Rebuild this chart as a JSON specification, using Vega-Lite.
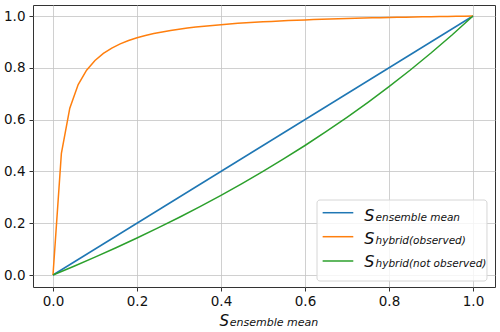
{
  "$schema": "https://vega.github.io/schema/vega-lite/v6.json",
  "width": 462,
  "height": 282,
  "autosize": {"type": "none"},
  "padding": {"left": 33, "top": 5, "right": 5, "bottom": 45},
  "background": "white",
  "config": {
    "view": {"stroke": "#333333", "strokeWidth": 1},
    "axis": {
      "domain": false,
      "tickColor": "#333333",
      "tickSize": 4,
      "tickWidth": 1,
      "labelFont": "DejaVu Sans",
      "labelFontSize": 13.5,
      "labelColor": "#111111",
      "gridColor": "#c4c4c4",
      "gridWidth": 0.8,
      "title": null
    }
  },
  "data": {
    "values": [
      {"x": 0, "y": 0, "series": "ensemble mean"},
      {"x": 1, "y": 1, "series": "ensemble mean"},

      {"x": 0.00, "y": 0.0, "series": "hybrid(observed)"},
      {"x": 0.02, "y": 0.4701, "series": "hybrid(observed)"},
      {"x": 0.04, "y": 0.6443, "series": "hybrid(observed)"},
      {"x": 0.06, "y": 0.7351, "series": "hybrid(observed)"},
      {"x": 0.08, "y": 0.7908, "series": "hybrid(observed)"},
      {"x": 0.10, "y": 0.8285, "series": "hybrid(observed)"},
      {"x": 0.12, "y": 0.8557, "series": "hybrid(observed)"},
      {"x": 0.14, "y": 0.8762, "series": "hybrid(observed)"},
      {"x": 0.16, "y": 0.8923, "series": "hybrid(observed)"},
      {"x": 0.18, "y": 0.9052, "series": "hybrid(observed)"},
      {"x": 0.20, "y": 0.9158, "series": "hybrid(observed)"},
      {"x": 0.22, "y": 0.9246, "series": "hybrid(observed)"},
      {"x": 0.24, "y": 0.9321, "series": "hybrid(observed)"},
      {"x": 0.26, "y": 0.9386, "series": "hybrid(observed)"},
      {"x": 0.28, "y": 0.9442, "series": "hybrid(observed)"},
      {"x": 0.30, "y": 0.9491, "series": "hybrid(observed)"},
      {"x": 0.32, "y": 0.9534, "series": "hybrid(observed)"},
      {"x": 0.34, "y": 0.9573, "series": "hybrid(observed)"},
      {"x": 0.36, "y": 0.9607, "series": "hybrid(observed)"},
      {"x": 0.38, "y": 0.9638, "series": "hybrid(observed)"},
      {"x": 0.40, "y": 0.9667, "series": "hybrid(observed)"},
      {"x": 0.42, "y": 0.9692, "series": "hybrid(observed)"},
      {"x": 0.44, "y": 0.9716, "series": "hybrid(observed)"},
      {"x": 0.46, "y": 0.9737, "series": "hybrid(observed)"},
      {"x": 0.48, "y": 0.9757, "series": "hybrid(observed)"},
      {"x": 0.50, "y": 0.9775, "series": "hybrid(observed)"},
      {"x": 0.52, "y": 0.9792, "series": "hybrid(observed)"},
      {"x": 0.54, "y": 0.9808, "series": "hybrid(observed)"},
      {"x": 0.56, "y": 0.9822, "series": "hybrid(observed)"},
      {"x": 0.58, "y": 0.9836, "series": "hybrid(observed)"},
      {"x": 0.60, "y": 0.9849, "series": "hybrid(observed)"},
      {"x": 0.62, "y": 0.9861, "series": "hybrid(observed)"},
      {"x": 0.64, "y": 0.9872, "series": "hybrid(observed)"},
      {"x": 0.66, "y": 0.9883, "series": "hybrid(observed)"},
      {"x": 0.68, "y": 0.9893, "series": "hybrid(observed)"},
      {"x": 0.70, "y": 0.9902, "series": "hybrid(observed)"},
      {"x": 0.72, "y": 0.9911, "series": "hybrid(observed)"},
      {"x": 0.74, "y": 0.9920, "series": "hybrid(observed)"},
      {"x": 0.76, "y": 0.9928, "series": "hybrid(observed)"},
      {"x": 0.78, "y": 0.9936, "series": "hybrid(observed)"},
      {"x": 0.80, "y": 0.9943, "series": "hybrid(observed)"},
      {"x": 0.82, "y": 0.9950, "series": "hybrid(observed)"},
      {"x": 0.84, "y": 0.9956, "series": "hybrid(observed)"},
      {"x": 0.86, "y": 0.9963, "series": "hybrid(observed)"},
      {"x": 0.88, "y": 0.9969, "series": "hybrid(observed)"},
      {"x": 0.90, "y": 0.9975, "series": "hybrid(observed)"},
      {"x": 0.92, "y": 0.9980, "series": "hybrid(observed)"},
      {"x": 0.94, "y": 0.9985, "series": "hybrid(observed)"},
      {"x": 0.96, "y": 0.9990, "series": "hybrid(observed)"},
      {"x": 0.98, "y": 0.9995, "series": "hybrid(observed)"},
      {"x": 1.00, "y": 1.0, "series": "hybrid(observed)"},

      {"x": 0.00, "y": 0.0, "series": "hybrid(not observed)"},
      {"x": 0.05, "y": 0.0339, "series": "hybrid(not observed)"},
      {"x": 0.10, "y": 0.0690, "series": "hybrid(not observed)"},
      {"x": 0.15, "y": 0.1053, "series": "hybrid(not observed)"},
      {"x": 0.20, "y": 0.1429, "series": "hybrid(not observed)"},
      {"x": 0.25, "y": 0.1818, "series": "hybrid(not observed)"},
      {"x": 0.30, "y": 0.2222, "series": "hybrid(not observed)"},
      {"x": 0.35, "y": 0.2642, "series": "hybrid(not observed)"},
      {"x": 0.40, "y": 0.3077, "series": "hybrid(not observed)"},
      {"x": 0.45, "y": 0.3529, "series": "hybrid(not observed)"},
      {"x": 0.50, "y": 0.4000, "series": "hybrid(not observed)"},
      {"x": 0.55, "y": 0.4490, "series": "hybrid(not observed)"},
      {"x": 0.60, "y": 0.5000, "series": "hybrid(not observed)"},
      {"x": 0.65, "y": 0.5532, "series": "hybrid(not observed)"},
      {"x": 0.70, "y": 0.6087, "series": "hybrid(not observed)"},
      {"x": 0.75, "y": 0.6667, "series": "hybrid(not observed)"},
      {"x": 0.80, "y": 0.7273, "series": "hybrid(not observed)"},
      {"x": 0.85, "y": 0.7907, "series": "hybrid(not observed)"},
      {"x": 0.90, "y": 0.8571, "series": "hybrid(not observed)"},
      {"x": 0.95, "y": 0.9268, "series": "hybrid(not observed)"},
      {"x": 1.00, "y": 1.0, "series": "hybrid(not observed)"}
    ]
  },
  "layer": [
    {
      "mark": {"type": "line", "strokeWidth": 1.5},
      "encoding": {
        "x": {
          "field": "x", "type": "quantitative",
          "scale": {"domain": [-0.0476, 1.0524], "nice": false, "zero": false},
          "axis": {"values": [0, 0.2, 0.4, 0.6, 0.8, 1.0], "format": ".1f", "labelPadding": 3}
        },
        "y": {
          "field": "y", "type": "quantitative",
          "scale": {"domain": [-0.0463, 1.0425], "nice": false, "zero": false},
          "axis": {"values": [0, 0.2, 0.4, 0.6, 0.8, 1.0], "format": ".1f", "labelPadding": 4}
        },
        "color": {
          "field": "series", "type": "nominal",
          "scale": {
            "domain": ["ensemble mean", "hybrid(observed)", "hybrid(not observed)"],
            "range": ["#1f77b4", "#ff7f0e", "#2ca02c"]
          },
          "legend": null
        },
        "order": {"field": "x", "type": "quantitative"}
      }
    },
    {
      "data": {"values": [{}]},
      "mark": {"type": "rect", "fill": "white", "fillOpacity": 0.8, "stroke": "#d6d6d6", "strokeWidth": 1, "cornerRadius": 3},
      "encoding": {
        "x": {"datum": 0.6286, "type": "quantitative"},
        "x2": {"datum": 1.0333},
        "y": {"datum": 0.2896, "type": "quantitative"},
        "y2": {"datum": -0.0232}
      }
    },
    {
      "data": {"values": [{}]},
      "mark": {"type": "rule", "stroke": "#1f77b4", "strokeWidth": 1.5},
      "encoding": {"x": {"datum": 0.642, "type": "quantitative"}, "x2": {"datum": 0.715}, "y": {"datum": 0.2405, "type": "quantitative"}}
    },
    {
      "data": {"values": [{}]},
      "mark": {"type": "rule", "stroke": "#ff7f0e", "strokeWidth": 1.5},
      "encoding": {"x": {"datum": 0.642, "type": "quantitative"}, "x2": {"datum": 0.715}, "y": {"datum": 0.1479, "type": "quantitative"}}
    },
    {
      "data": {"values": [{}]},
      "mark": {"type": "rule", "stroke": "#2ca02c", "strokeWidth": 1.5},
      "encoding": {"x": {"datum": 0.642, "type": "quantitative"}, "x2": {"datum": 0.715}, "y": {"datum": 0.0541, "type": "quantitative"}}
    },
    {
      "data": {"values": [{"t": "S"}]},
      "mark": {"type": "text", "align": "left", "baseline": "alphabetic", "font": "DejaVu Sans", "fontStyle": "italic", "fontSize": 16, "color": "#111111"},
      "encoding": {"x": {"datum": 0.741, "type": "quantitative"}, "y": {"datum": 0.2097, "type": "quantitative"}, "text": {"field": "t"}}
    },
    {
      "data": {"values": [{"t": "ensemble mean"}]},
      "mark": {"type": "text", "align": "left", "baseline": "alphabetic", "font": "DejaVu Sans", "fontStyle": "italic", "fontSize": 10.5, "color": "#111111"},
      "encoding": {"x": {"datum": 0.768, "type": "quantitative"}, "y": {"datum": 0.2097, "type": "quantitative"}, "text": {"field": "t"}}
    },
    {
      "data": {"values": [{"t": "S"}]},
      "mark": {"type": "text", "align": "left", "baseline": "alphabetic", "font": "DejaVu Sans", "fontStyle": "italic", "fontSize": 16, "color": "#111111"},
      "encoding": {"x": {"datum": 0.741, "type": "quantitative"}, "y": {"datum": 0.1208, "type": "quantitative"}, "text": {"field": "t"}}
    },
    {
      "data": {"values": [{"t": "hybrid(observed)"}]},
      "mark": {"type": "text", "align": "left", "baseline": "alphabetic", "font": "DejaVu Sans", "fontStyle": "italic", "fontSize": 10.5, "color": "#111111"},
      "encoding": {"x": {"datum": 0.768, "type": "quantitative"}, "y": {"datum": 0.1208, "type": "quantitative"}, "text": {"field": "t"}}
    },
    {
      "data": {"values": [{"t": "S"}]},
      "mark": {"type": "text", "align": "left", "baseline": "alphabetic", "font": "DejaVu Sans", "fontStyle": "italic", "fontSize": 16, "color": "#111111"},
      "encoding": {"x": {"datum": 0.741, "type": "quantitative"}, "y": {"datum": 0.0309, "type": "quantitative"}, "text": {"field": "t"}}
    },
    {
      "data": {"values": [{"t": "hybrid(not observed)"}]},
      "mark": {"type": "text", "align": "left", "baseline": "alphabetic", "font": "DejaVu Sans", "fontStyle": "italic", "fontSize": 10.5, "color": "#111111"},
      "encoding": {"x": {"datum": 0.768, "type": "quantitative"}, "y": {"datum": 0.0309, "type": "quantitative"}, "text": {"field": "t"}}
    },
    {
      "data": {"values": [{"t": "S"}]},
      "mark": {"type": "text", "align": "left", "baseline": "alphabetic", "font": "DejaVu Sans", "fontStyle": "italic", "fontSize": 15, "color": "#111111"},
      "encoding": {"x": {"datum": 0.3966, "type": "quantitative"}, "y": {"datum": -0.1988, "type": "quantitative"}, "text": {"field": "t"}}
    },
    {
      "data": {"values": [{"t": "ensemble mean"}]},
      "mark": {"type": "text", "align": "left", "baseline": "alphabetic", "font": "DejaVu Sans", "fontStyle": "italic", "fontSize": 11, "color": "#111111"},
      "encoding": {"x": {"datum": 0.421, "type": "quantitative"}, "y": {"datum": -0.1988, "type": "quantitative"}, "text": {"field": "t"}}
    }
  ]
}
